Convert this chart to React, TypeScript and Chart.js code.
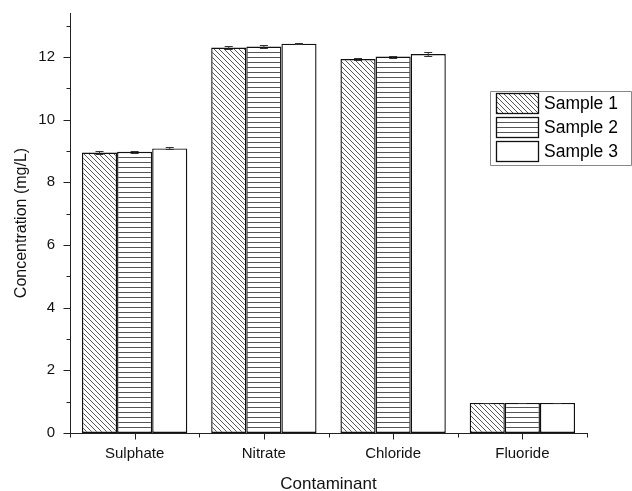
import React, { useEffect, useRef } from "react";
import { Chart, registerables } from "chart.js";

Chart.register(...registerables);

const categories = ["Sulphate", "Nitrate", "Chloride", "Fluoride"];
const seriesNames = ["Sample 1", "Sample 2", "Sample 3"];
const sample1 = [8.95, 12.3, 11.93, 0.96];
const sample2 = [8.97, 12.33, 12.01, 0.96];
const sample3 = [9.08, 12.42, 12.09, 0.96];
const err1 = [0.05, 0.05, 0.04, 0.01];
const err2 = [0.03, 0.04, 0.03, 0.01];
const err3 = [0.03, 0.02, 0.05, 0.01];
const yTickValues = [0, 2, 4, 6, 8, 10, 12];
const yMinorValues = [1, 3, 5, 7, 9, 11, 13];

const FONT = "'Liberation Sans', Arial, sans-serif";

function makeDiagonal(): CanvasPattern | string {
  const c = document.createElement("canvas");
  c.width = 5;
  c.height = 5;
  const g = c.getContext("2d")!;
  g.fillStyle = "#ffffff";
  g.fillRect(0, 0, 5, 5);
  g.strokeStyle = "#444";
  g.lineWidth = 0.9;
  g.beginPath();
  g.moveTo(-1, -1);
  g.lineTo(6, 6);
  g.moveTo(-1, 4);
  g.lineTo(1, 6);
  g.moveTo(4, -1);
  g.lineTo(6, 1);
  g.stroke();
  return g.createPattern(c, "repeat") || "#fff";
}

function makeHorizontal(): CanvasPattern | string {
  const c = document.createElement("canvas");
  c.width = 4;
  c.height = 5;
  const g = c.getContext("2d")!;
  g.fillStyle = "#ffffff";
  g.fillRect(0, 0, 4, 5);
  g.fillStyle = "#555";
  g.fillRect(0, 2, 4, 1);
  return g.createPattern(c, "repeat") || "#fff";
}

export default function App() {
  const ref = useRef<HTMLCanvasElement>(null);

  useEffect(() => {
    document.body.style.margin = "0";
    const canvas = ref.current!;
    const fills = [makeDiagonal(), makeHorizontal(), "#ffffff"];
    const errs = [err1, err2, err3];

    const errorBars = {
      id: "errorBars",
      afterDatasetsDraw(chart: any) {
        const ctx = chart.ctx;
        const y = chart.scales.y;
        ctx.save();
        ctx.strokeStyle = "#333";
        ctx.lineWidth = 1;
        chart.data.datasets.forEach((ds: any, di: number) => {
          const meta = chart.getDatasetMeta(di);
          meta.data.forEach((bar: any, i: number) => {
            const v = ds.data[i];
            const e = errs[di][i];
            const x = bar.x;
            const yt = Math.round(y.getPixelForValue(v + e)) + 0.5;
            const yb = Math.round(y.getPixelForValue(v - e)) + 0.5;
            ctx.beginPath();
            ctx.moveTo(x, yt);
            ctx.lineTo(x, yb);
            ctx.moveTo(x - 4, yt);
            ctx.lineTo(x + 4, yt);
            ctx.moveTo(x - 4, yb);
            ctx.lineTo(x + 4, yb);
            ctx.stroke();
          });
        });
        ctx.restore();
      },
    };

    const axisTicks = {
      id: "axisTicks",
      afterDraw(chart: any) {
        const ctx = chart.ctx;
        const y = chart.scales.y;
        const x = chart.scales.x;
        const area = chart.chartArea;
        ctx.save();
        ctx.strokeStyle = "#222";
        ctx.lineWidth = 1;
        const ax = Math.round(area.left) + 0.5;
        const ay = Math.round(area.bottom) + 0.5;
        ctx.beginPath();
        yTickValues.forEach((v) => {
          const p = Math.round(y.getPixelForValue(v)) + 0.5;
          ctx.moveTo(ax - 7, p);
          ctx.lineTo(ax, p);
        });
        yMinorValues.forEach((v) => {
          const p = Math.round(y.getPixelForValue(v)) + 0.5;
          ctx.moveTo(ax - 4, p);
          ctx.lineTo(ax, p);
        });
        categories.forEach((_, i) => {
          const p = Math.round(x.getPixelForValue(i)) + 0.5;
          ctx.moveTo(p, ay);
          ctx.lineTo(p, ay + 6);
        });
        for (let i = 0; i <= categories.length; i++) {
          const p = Math.round(x.getPixelForValue(i - 0.5)) + 0.5;
          ctx.moveTo(p, ay);
          ctx.lineTo(p, ay + 4);
        }
        ctx.stroke();

        // legend
        const lx = 490.5, ly = 91.5, lr = 631.5, lb = 165.5;
        ctx.strokeStyle = "#888";
        ctx.beginPath();
        ctx.moveTo(lx, lb);
        ctx.lineTo(lx, ly);
        ctx.lineTo(lr, ly);
        ctx.lineTo(lr, lb);
        ctx.lineTo(lx, lb);
        ctx.stroke();
        ctx.font = `17.5px ${FONT}`;
        ctx.textBaseline = "middle";
        ctx.textAlign = "left";
        seriesNames.forEach((name, i) => {
          const sy = 93 + i * 24;
          ctx.fillStyle = fills[i] as any;
          ctx.fillRect(496, sy, 43, 21);
          ctx.strokeStyle = "#111";
          ctx.lineWidth = 1.3;
          ctx.strokeRect(496.5, sy + 0.5, 42, 20);
          ctx.fillStyle = "#000";
          ctx.fillText(name, 544, sy + 11);
        });
        ctx.restore();
      },
    };

    const chart = new Chart(canvas, {
      type: "bar",
      data: {
        labels: categories,
        datasets: [sample1, sample2, sample3].map((d, i) => ({
          label: seriesNames[i],
          data: d,
          backgroundColor: fills[i] as any,
          borderColor: "#111",
          borderWidth: 1.4,
          borderSkipped: false,
          categoryPercentage: 0.815,
          barPercentage: 1,
        })),
      },
      options: {
        animation: false,
        responsive: false,
        devicePixelRatio: 1,
        layout: { padding: { top: 13, right: 45, left: 0, bottom: 0 } },
        plugins: { legend: { display: false }, tooltip: { enabled: false } },
        scales: {
          x: {
            grid: { display: false, drawTicks: false },
            border: { display: true, color: "#222", width: 1 },
            ticks: { padding: 12, color: "#111", font: { family: FONT, size: 15 } },
            title: {
              display: true,
              text: "Contaminant",
              color: "#111",
              font: { family: FONT, size: 17, lineHeight: 0.8 },
              padding: { top: 0, bottom: 0 },
            },
            afterFit(scale: any) {
              scale.height = 58;
              scale.paddingLeft = 0;
              scale.paddingRight = 0;
            },
          },
          y: {
            min: 0,
            max: 13.4,
            grid: { display: false, drawTicks: false },
            border: { display: true, color: "#222", width: 1 },
            ticks: { padding: 15, color: "#111", font: { family: FONT, size: 15 } },
            afterBuildTicks(scale: any) {
              scale.ticks = yTickValues.map((v) => ({ value: v }));
            },
            title: {
              display: true,
              text: "Concentration (mg/L)",
              color: "#111",
              font: { family: FONT, size: 16, lineHeight: 1 },
              padding: { top: 14, bottom: 0 },
            },
            afterFit(scale: any) {
              scale.width = 70;
              scale.paddingTop = 0;
              scale.paddingBottom = 0;
            },
          },
        },
      },
      plugins: [errorBars, axisTicks],
    });
    return () => chart.destroy();
  }, []);

  return (
    <div style={{ position: "fixed", left: 0, top: 0, width: 632, height: 491, background: "#fff" }}>
      <canvas ref={ref} width={632} height={491} style={{ width: 632, height: 491 }} />
    </div>
  );
}
